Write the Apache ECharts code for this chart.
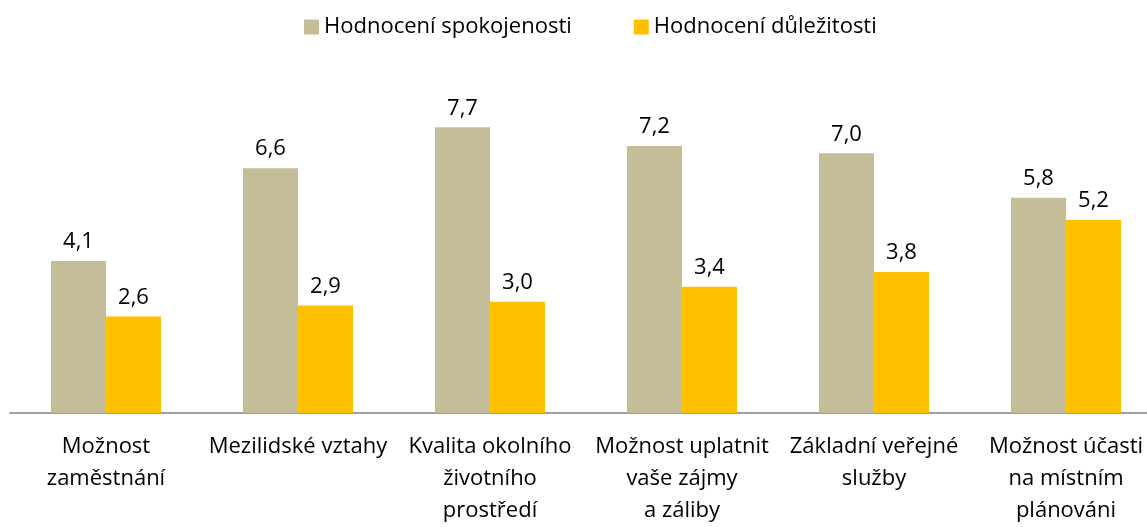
<!DOCTYPE html>
<html>
<head>
<meta charset="utf-8">
<script src="https://cdn.jsdelivr.net/npm/echarts@6/dist/echarts.min.js"></script>
<style>
  html, body { margin: 0; padding: 0; background: #fff; overflow: hidden; }
  #main { width: 1162px; height: 527px; }
</style>
</head>
<body>
<div id="main"></div>
<script>
var categories = [
	'Možnost\nzaměstnání',
	'Mezilidské vztahy',
	'Kvalita okolního\nživotního\nprostředí',
	'Možnost uplatnit\nvaše zájmy\na záliby',
	'Základní veřejné\nslužby',
	'Možnost účasti\nna místním\nplánováni'
];
var seriesNames = ['Hodnocení spokojenosti', 'Hodnocení důležitosti'];
var spokojenost = [4.1, 6.6, 7.7, 7.2, 7.0, 5.8];
var dulezitost = [2.6, 2.9, 3.0, 3.4, 3.8, 5.2];

var font = '"Open Sans", "Noto Sans", sans-serif';
var myChart = echarts.init(document.getElementById('main'));

function labelFmt(p) {
	return p.value.toFixed(1).replace('.', ',');
}

var option = {
	animation: false,
	legend: {
		top: 11,
		left: 299,
		itemWidth: 15,
		itemHeight: 15,
		itemGap: 62,
		icon: 'rect',
		textStyle: { fontFamily: font, fontSize: 22, color: '#000' },
		data: seriesNames
	},
	grid: {
		left: 10,
		right: 0,
		top: 42,
		bottom: 114,
		containLabel: false
	},
	xAxis: {
		type: 'category',
		data: categories,
		axisLine: { lineStyle: { color: '#a0a0a0', width: 2 } },
		axisTick: { show: false },
		axisLabel: {
			interval: 0,
			margin: 18,
			fontFamily: font,
			fontSize: 22,
			lineHeight: 32,
			color: '#000'
		}
	},
	yAxis: {
		type: 'value',
		min: 0,
		max: 10,
		show: false
	},
	series: [{
		name: seriesNames[0],
		type: 'bar',
		data: spokojenost,
		barWidth: 55,
		barGap: '0%',
		itemStyle: { color: '#C4BD97' },
		label: {
			show: true,
			position: 'top',
			distance: 8,
			formatter: labelFmt,
			fontFamily: font,
			fontSize: 22,
			color: '#000'
		}
	}, {
		name: seriesNames[1],
		type: 'bar',
		data: dulezitost,
		barWidth: 55,
		itemStyle: { color: '#FFC000' },
		label: {
			show: true,
			position: 'top',
			distance: 8,
			formatter: labelFmt,
			fontFamily: font,
			fontSize: 22,
			color: '#000'
		}
	}]
};
myChart.setOption(option);
</script>
</body>
</html>
